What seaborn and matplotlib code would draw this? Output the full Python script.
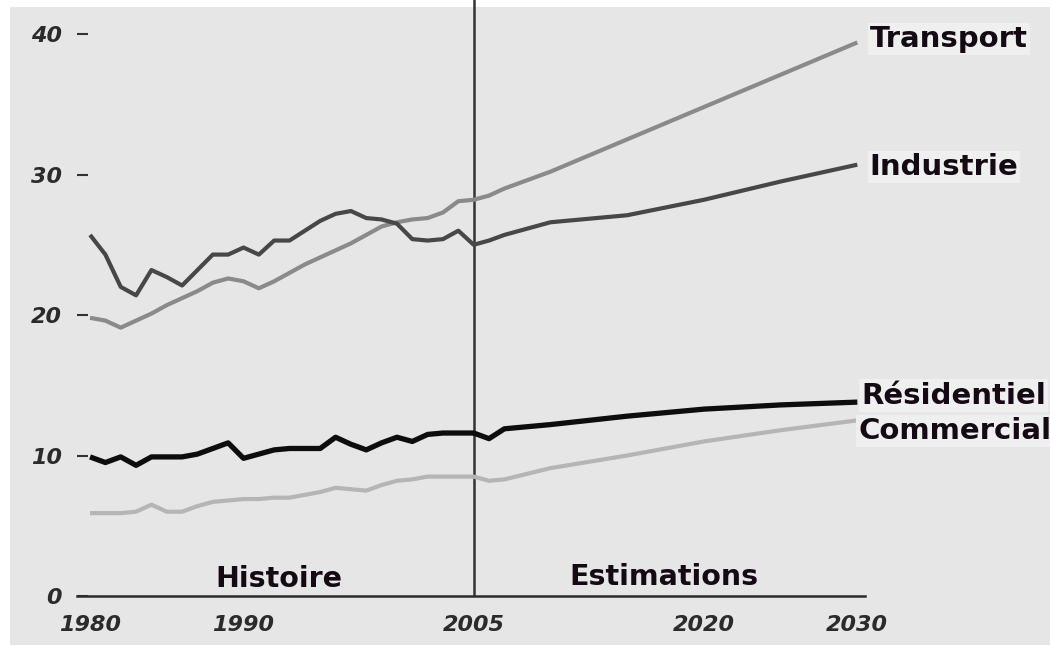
import pandas as pd
import matplotlib
matplotlib.use("Agg")
import matplotlib.pyplot as plt
from matplotlib.patches import Rectangle
import seaborn as sns

# Données (quadrillions de Btu)
annees_hist = [1980, 1981, 1982, 1983, 1984, 1985, 1986, 1987, 1988, 1989,
               1990, 1991, 1992, 1993, 1994, 1995, 1996, 1997, 1998, 1999,
               2000, 2001, 2002, 2003, 2004, 2005]
annees_proj = [2006, 2007, 2010, 2015, 2020, 2025, 2030]

transport_hist = [19.8, 19.6, 19.1, 19.6, 20.1, 20.7, 21.2, 21.7, 22.3, 22.6,
                  22.4, 21.9, 22.4, 23.0, 23.6, 24.1, 24.6, 25.1, 25.7, 26.3,
                  26.6, 26.8, 26.9, 27.3, 28.1, 28.2]
transport_proj = [28.5, 29.0, 30.2, 32.5, 34.8, 37.1, 39.4]

industrie_hist = [25.7, 24.3, 22.0, 21.4, 23.2, 22.7, 22.1, 23.2, 24.3, 24.3,
                  24.8, 24.3, 25.3, 25.3, 26.0, 26.7, 27.2, 27.4, 26.9, 26.8,
                  26.5, 25.4, 25.3, 25.4, 26.0, 25.0]
industrie_proj = [25.3, 25.7, 26.6, 27.1, 28.2, 29.5, 30.7]

residentiel_hist = [9.9, 9.5, 9.9, 9.3, 9.9, 9.9, 9.9, 10.1, 10.5, 10.9,
                    9.8, 10.1, 10.4, 10.5, 10.5, 10.5, 11.3, 10.8, 10.4, 10.9,
                    11.3, 11.0, 11.5, 11.6, 11.6, 11.6]
residentiel_proj = [11.2, 11.9, 12.2, 12.8, 13.3, 13.6, 13.8]

commercial_hist = [5.9, 5.9, 5.9, 6.0, 6.5, 6.0, 6.0, 6.4, 6.7, 6.8,
                   6.9, 6.9, 7.0, 7.0, 7.2, 7.4, 7.7, 7.6, 7.5, 7.9,
                   8.2, 8.3, 8.5, 8.5, 8.5, 8.5]
commercial_proj = [8.2, 8.3, 9.1, 10.0, 11.0, 11.8, 12.5]

secteurs = ["Transport", "Industrie", "Résidentiel", "Commercial"]
couleurs = {"Transport": "#8a8a8a", "Industrie": "#474747",
            "Résidentiel": "#0d0d0d", "Commercial": "#b5b5b5"}
epaisseurs = {"Transport": 3.0, "Industrie": 3.0,
              "Résidentiel": 3.8, "Commercial": 3.0}

valeurs = {
    "Transport": transport_hist + transport_proj,
    "Industrie": industrie_hist + industrie_proj,
    "Résidentiel": residentiel_hist + residentiel_proj,
    "Commercial": commercial_hist + commercial_proj,
}
annees = annees_hist + annees_proj

df = pd.DataFrame([
    {"Année": a, "Valeur": v, "Secteur": s}
    for s in secteurs for a, v in zip(annees, valeurs[s])
])

sns.set_theme(style="white")
plt.rcParams["font.family"] = ["DejaVu Sans"]

fig = plt.figure(figsize=(10.5, 6.45), dpi=100, facecolor="white")
fig.patches.append(Rectangle((10 / 1050, 0), 1 - 10 / 1050, 1 - 7 / 645,
                             transform=fig.transFigure, facecolor="#e6e6e6",
                             edgecolor="none", zorder=-10))
ax = fig.add_axes([77 / 1050, 49 / 645, 788 / 1050, 596 / 645])
ax.set_facecolor("none")
ax.set_zorder(1)

for s in secteurs:
    sns.lineplot(data=df[df["Secteur"] == s], x="Année", y="Valeur",
                 color=couleurs[s], linewidth=epaisseurs[s], ax=ax,
                 solid_joinstyle="round", solid_capstyle="butt")

ax.axvline(2005, color="#333333", linewidth=1.8, zorder=1)

ax.set_xlim(1979.15, 2030.5)
ax.set_ylim(0, 42.42)
ax.set_xlabel("")
ax.set_ylabel("")

for side in ["top", "right", "left"]:
    ax.spines[side].set_visible(False)
ax.spines["bottom"].set_color("#2b2b2b")
ax.spines["bottom"].set_linewidth(1.8)

ax.set_xticks([1980, 1990, 2005, 2020, 2030])
ax.set_yticks([0, 10, 20, 30, 40])
ax.tick_params(axis="x", length=0, pad=14)
ax.tick_params(axis="y", direction="in", length=8, width=1.5,
               color="#333333", pad=11, left=True)
for lab in ax.get_xticklabels() + ax.get_yticklabels():
    lab.set_fontsize(16)
    lab.set_fontstyle("italic")
    lab.set_fontweight("bold")
    lab.set_color("#2b2b2b")

fond = dict(facecolor="#efefef", edgecolor="none", pad=1.5)
etiquettes = {"Transport": (2030.8, 39.05), "Industrie": (2030.8, 29.95),
              "Résidentiel": (2030.25, 13.7), "Commercial": (2030.05, 11.2)}
for s, (x, y) in etiquettes.items():
    ax.text(x, y, s, fontsize=21, fontweight="bold", color="#140a14",
            va="baseline", ha="left", bbox=fond, clip_on=False)

ax.text(1992.3, 0.65, "Histoire", fontsize=20.5, fontweight="bold",
        color="#140a14", ha="center", va="baseline")
ax.text(2017.4, 0.75, "Estimations", fontsize=20.5, fontweight="bold",
        color="#140a14", ha="center", va="baseline")

fig.savefig("out.png", dpi=100, facecolor=fig.get_facecolor())
plt.close(fig)
